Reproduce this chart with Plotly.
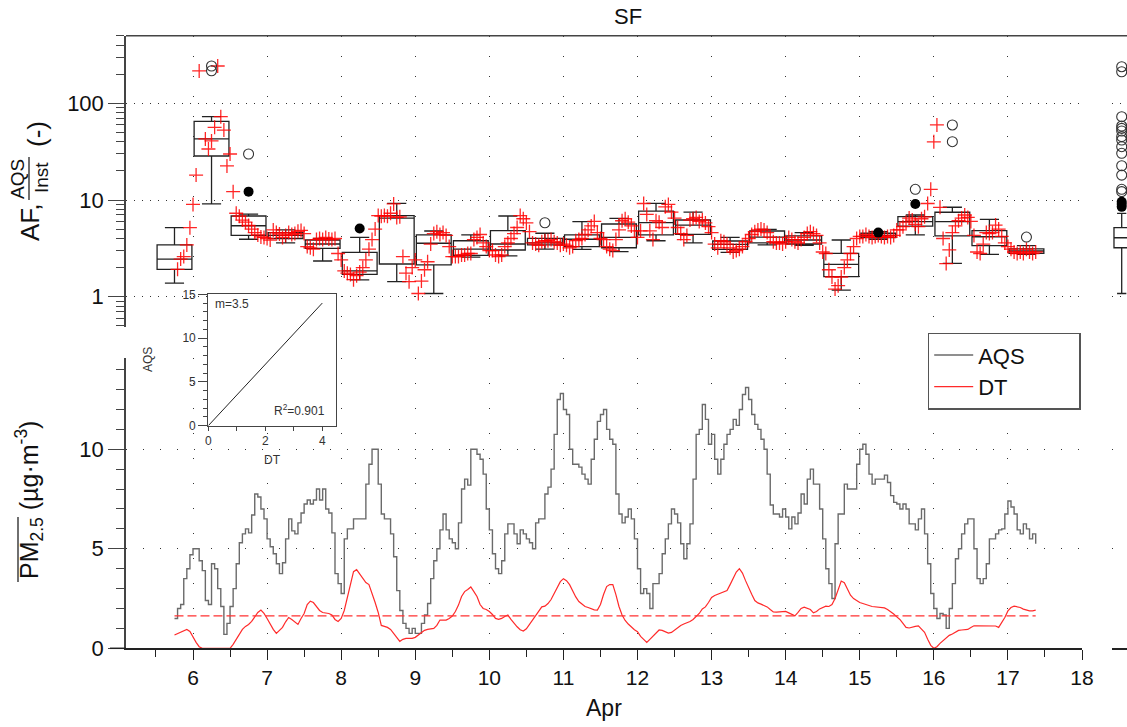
import plotly.graph_objects as go

W, H = 1127, 727
FONT = "Liberation Sans, Arial, sans-serif"


def fx(p):
    return p / W


def fy(p):
    return 1 - p / H


# ---------------- data ----------------
T0 = 5.75  # first hourly sample, Apr 5 18:00

aqs = [
    1.5, 2.0, 2.2, 3.5, 4.0, 4.7, 5.0, 5.0, 4.4, 3.9,
    2.4, 2.2, 4.25, 4.0, 3.0, 2.1, 0.7, 1.25, 2.1, 3.0,
    4.25, 5.3, 5.75, 6.0, 5.8, 6.7, 7.75, 7.6, 7.0, 6.5,
    5.5, 5.1, 4.75, 4.25, 3.75, 4.3, 5.5, 6.5, 5.9, 5.75,
    6.3, 6.8, 7.25, 7.45, 7.25, 7.45, 8.0, 7.45, 8.0, 7.0,
    6.8, 5.8, 3.75, 3.25, 2.75, 5.5, 6.0, 6.0, 6.5, 6.5,
    6.5, 6.5, 8.25, 9.25, 10.0, 10.0, 8.25, 6.75, 6.5, 6.5,
    5.75, 4.6, 2.9, 1.9, 1.25, 1.0, 0.75, 1.0, 0.75, 0.75,
    1.25, 1.67, 2.25, 3.5, 4.4, 5.0, 5.95, 6.75, 5.95, 5.5,
    5.3, 5.0, 6.3, 8.0, 8.5, 8.2, 10.0, 10.0, 9.75, 9.5,
    8.75, 7.0, 5.95, 4.75, 4.0, 3.75, 4.4, 5.75, 6.25, 6.25,
    5.75, 5.25, 5.95, 5.75, 5.5, 5.3, 5.0, 6.3, 6.5, 6.5,
    7.75, 8.1, 9.0, 10.75, 12.5, 12.8, 12.0, 11.75, 10.0, 9.25,
    9.25, 9.1, 8.75, 8.5, 8.25, 9.5, 10.5, 11.4, 11.75, 12.0,
    11.0, 10.5, 10.25, 7.75, 6.75, 6.3, 6.6, 7.0, 6.5, 5.5,
    4.0, 2.75, 3.0, 2.75, 2.0, 3.25, 3.25, 3.75, 4.75, 5.5,
    6.25, 7.0, 6.75, 6.3, 5.25, 4.5, 5.25, 6.25, 8.5, 10.75,
    11.0, 12.25, 11.5, 10.25, 10.75, 9.5, 8.75, 9.5, 10.25, 10.75,
    11.0, 11.5, 11.2, 12.0, 12.75, 13.1, 12.5, 11.75, 11.25, 11.0,
    10.5, 10.0, 8.75, 7.2, 6.75, 6.75, 6.6, 7.0, 6.6, 6.0,
    6.6, 6.25, 6.8, 7.75, 7.25, 8.5, 9.0, 8.25, 8.25, 7.0,
    5.5, 4.0, 3.25, 2.5, 5.25, 6.75, 6.75, 8.25, 8.0, 8.0,
    8.0, 9.25, 10.0, 10.25, 9.75, 8.75, 8.25, 8.5, 8.5, 8.5,
    8.7, 8.33, 7.67, 7.33, 7.25, 7.0, 7.25, 7.0, 6.25, 6.25,
    5.95, 6.5, 7.0, 5.75, 4.25, 2.75, 2.0, 1.5, 1.75, 1.67,
    1.0, 2.0, 3.25, 4.5, 5.0, 5.75, 6.25, 6.5, 6.5, 5.0,
    3.5, 3.25, 3.5, 4.25, 5.5, 5.5, 5.75, 5.95, 6.0, 6.75,
    7.4, 7.1, 6.75, 5.95, 5.75, 6.25, 6.0, 5.5, 5.75, 5.25,
]

dt = [
    0.67, 0.75, 0.83, 0.88, 0.95, 0.85, 0.55, 0.3, 0.08, 0.0,
    0.0, 0.0, 0.0, 0.0, 0.0, 0.0, 0.0, 0.0, 0.0, 0.2,
    0.45, 0.75, 0.95, 1.1, 1.2, 1.35, 1.6, 1.8, 1.92, 1.75,
    1.5, 1.2, 0.95, 0.75, 0.9, 1.05, 1.33, 1.55, 1.45, 1.3,
    1.2, 1.5, 1.75, 2.2, 2.37, 2.3, 2.1, 1.9, 1.8, 1.78,
    1.75, 1.68, 1.45, 1.35, 1.5, 1.9, 2.6, 3.3, 3.85, 3.95,
    3.75, 3.5, 3.3, 3.2, 2.8, 2.3, 1.8, 1.15, 1.1, 1.05,
    0.95, 0.75, 0.5, 0.35, 0.45, 0.5, 0.5, 0.5, 0.55, 0.67,
    0.8, 0.9, 0.95, 0.97, 1.0, 1.15, 1.42, 1.42, 1.42, 1.5,
    1.62, 1.85, 2.17, 2.6, 2.85, 2.95, 3.08, 2.85, 2.6, 2.2,
    2.0, 1.95, 1.85, 1.7, 1.5, 1.45, 1.5, 1.6, 1.67, 1.45,
    1.25, 1.08, 0.93, 0.87, 0.98, 1.2, 1.45, 1.7, 1.92, 2.08,
    2.12, 2.25, 2.45, 2.75, 3.08, 3.35, 3.5, 3.4, 3.2, 2.85,
    2.58, 2.35, 2.2, 2.1, 2.05, 1.97, 1.93, 1.92, 2.2, 2.7,
    3.1, 3.2, 3.2, 2.7, 2.1, 1.67, 1.4, 1.22, 1.05, 0.93,
    0.83, 0.6, 0.45, 0.3, 0.45, 0.62, 0.78, 0.92, 0.9, 0.83,
    0.76, 0.8, 0.92, 1.05, 1.15, 1.22, 1.28, 1.35, 1.45, 1.58,
    1.75, 1.98, 2.08, 2.3, 2.55, 2.65, 2.72, 2.78, 2.82, 2.9,
    3.2, 3.5, 3.83, 4.0, 3.78, 3.4, 3.02, 2.72, 2.4, 2.28,
    2.22, 2.15, 2.08, 1.95, 1.83, 1.82, 1.83, 1.85, 1.85, 1.78,
    1.7, 1.63, 1.8, 2.0, 2.07, 2.0, 1.95, 1.78, 1.85, 1.98,
    2.05, 2.12, 2.1, 2.2, 2.5, 2.9, 3.38, 3.3, 3.0, 2.67,
    2.5, 2.38, 2.3, 2.25, 2.18, 2.15, 2.1, 2.08, 2.07, 2.05,
    2.03, 1.95, 1.85, 1.72, 1.58, 1.45, 1.25, 1.05, 1.02, 1.07,
    1.1, 1.13, 0.98, 0.8, 0.45, 0.15, 0.0, 0.08, 0.25, 0.4,
    0.55, 0.65, 0.72, 0.82, 0.9, 0.92, 0.95, 0.95, 1.05, 1.13,
    1.13, 1.13, 1.13, 1.13, 1.13, 1.13, 1.12, 1.05, 1.3, 1.55,
    1.88, 2.05, 2.12, 2.08, 2.05, 1.97, 1.93, 1.88, 1.88, 1.92,
]

DT_MEAN = 1.63

# hourly adjustment factor AQS / instrument (None = no sample)
af = [
    None, 1.92, 2.45, 2.6, 3.43, 5.18, 9.0, 18.1, 216, None,
    42.8, 33.7, 40.8, 56.5, 243, 72.7, 52.9, 22.5, 29.9,
    12.2, 7.3, 6.8, 6.2, 5.9, 5.45, 5.0, 4.6, 4.35, 4.15, 4.1, 4.0,
    3.85, 4.9, 4.6, 4.45, 4.1, 4.3, 4.6, 4.4, 4.5, 4.75, 4.85, 4.5,
    3.3, 3.2, 3.1, 3.9, 4.0, 3.9, 4.1, 3.95, 3.9, 4.0, 2.8, 2.4,
    1.85, 1.75, 1.7, 1.5, 1.65, 1.8, 2.0, 2.4, 3.1, 3.9, 5.0, 6.9,
    6.8, 6.9, 6.8, 7.3, 9.1, 6.6, 6.7, 2.6, 1.75, 1.43, 2.0, 2.4,
    1.08, 1.45, 1.9, 2.3, 3.5, 4.5, 4.7, 4.4, 4.6, 4.3, 3.3, 2.6,
    2.6, 2.6, 2.7, 2.7, 2.8, 2.8, 3.9, 4.1, 4.4, 3.6, 3.3, 3.0,
    3.0, 2.7, 2.6, 2.7, 3.3, 3.6, 4.0, 4.5, 5.2, 6.9, 6.4, 5.8,
    4.7, 3.6, 3.5, 3.4, 3.7, 3.8, 3.8, 3.9, 3.7, 3.6, 3.4, 3.5,
    3.4, 3.2, 3.3, 3.8, 3.9, 4.0, 4.4, 4.9, 5.4, 6.0, 4.6, 4.0,
    3.9, 3.3, 3.1, 3.0, 3.9, 4.9, 6.1, 6.4, 5.9, 5.4, 4.8, 4.1,
    4.8, 9.2, 7.1, 4.8, 3.9, 6.1, 5.9, 5.2, 8.5, 9.0, 7.5, 6.5,
    5.2, 4.5, 3.9, 4.3, 6.2, 6.4, 6.6, 6.0, 6.2, 5.8, 5.3, 4.6,
    3.5, 3.2, 3.8, 3.7, 3.5, 3.2, 2.9, 3.0, 3.1, 3.3, 3.7, 4.0,
    4.4, 4.7, 4.9, 5.0, 4.9, 4.6, 4.1, 3.7, 3.6, 3.6, 3.5, 3.7,
    4.1, 3.9, 3.7, 3.6, 3.9, 4.1, 4.5, 4.7, 4.5, 4.3, 3.6, 2.9,
    2.8, 1.9, 1.6, 1.2, 1.3, 1.6, 2.0, 2.4, 2.8, 3.3, 4.0, 4.2,
    4.2, 4.4, 4.2, 4.1, 4.2, 4.3, 4.2, 4.1, 4.2, 4.1, 4.3, 4.9,
    4.9, 5.3, 5.9, 6.5, 6.2, 5.6, 5.3, 6.4, 6.7, 9.2, 12.9, 40.0,
    59.7, 8.4, 4.0, 2.2, 3.05, 4.6, 5.4, 6.1, 6.5, 7.0, 6.6, 6.0,
    4.3, 2.9, 2.8, 3.5, 4.6, 4.5, 4.6, 5.5, 5.0, 4.2, 3.6, 3.3,
    3.1, 2.9, 2.8, 2.9, 2.8, 3.1, 2.9, 2.8, 2.9,
]

# half-day box statistics of AF
box_center = [5.75 + 0.5 * i for i in range(24)]
box_lo = [1.38, 9.1, 3.93, 3.6, 2.34, 1.49, 1.43, 1.08, 2.57, 2.64, 3.11, 3.09,
          2.92, 3.79, 3.61, 2.88, 3.43, 3.40, 1.17, 3.93, 4.35, 2.21, 2.74, 2.74]
box_q1 = [1.92, 28.5, 4.30, 4.0, 3.16, 1.70, 2.18, 2.13, 2.68, 3.04, 3.43, 3.29,
          3.21, 4.35, 4.42, 3.09, 3.61, 3.51, 1.61, 4.09, 5.38, 4.25, 3.37, 2.81]
box_med = [2.45, 42.8, 5.42, 4.3, 3.51, 1.85, 6.5, 3.57, 3.11, 3.51, 3.61, 3.93,
           4.11, 5.85, 5.51, 3.48, 4.14, 3.86, 2.16, 4.30, 5.97, 5.97, 4.17, 2.97]
box_q3 = [3.43, 65.1, 6.83, 4.6, 3.86, 2.87, 6.9, 4.35, 3.79, 4.82, 4.02, 4.35,
          5.65, 7.69, 6.21, 3.77, 4.78, 4.25, 2.81, 4.53, 6.72, 7.47, 4.82, 3.13]
box_hi = [5.18, 72.7, 7.16, 4.9, 4.02, 4.1, 9.25, 4.78, 4.35, 6.83, 4.53, 5.97,
          6.47, 9.25, 7.51, 4.11, 4.98, 4.59, 3.86, 4.70, 7.0, 8.42, 6.31, 3.37]

far_x = [6.25, 6.25, 6.75, 10.75, 15.75, 16.25, 16.25, 17.25]
far_y = [243, 217, 29.9, 5.82, 12.9, 59.7, 40.1, 4.14]
near_x = [6.75, 8.25, 15.25, 15.75]
near_y = [12.2, 5.07, 4.6, 9.1]

# whole-period box of AF
all_stats = dict(lo=1.08, q1=3.21, med=4.07, q3=5.17, hi=7.28)
all_far = [239, 212, 72.7, 58.2, 55.1, 51.7, 45.2, 41.7, 35.6, 30.4, 22.6, 18.1, 12.9, 12.2]
all_near = [9.6, 9.1, 8.5]

# regression of AQS on DT
SLOPE = 3.5
R2 = 0.901
fit_dt = [0.0, 4.0]

day_ticks = list(range(6, 19))

# ---------------- figure ----------------
hours = [T0 + k / 24 for k in range(len(aqs))]
af_hours = [T0 + k / 24 for k in range(len(af))]

fig = go.Figure()

# top panel: half-day boxes, hourly AF, outliers
fig.add_trace(go.Box(
    x=box_center, q1=box_q1, median=box_med, q3=box_q3,
    lowerfence=box_lo, upperfence=box_hi,
    width=0.47, whiskerwidth=0.55, boxpoints=False,
    line=dict(color="#222222", width=1.3), fillcolor="rgba(0,0,0,0)",
    xaxis="x2", yaxis="y", showlegend=False, hoverinfo="skip",
))
fig.add_trace(go.Scatter(
    x=af_hours, y=af, mode="markers",
    marker=dict(symbol="cross-thin", size=10, line=dict(color="rgba(255,0,0,0.85)", width=1.3)),
    xaxis="x2", yaxis="y", showlegend=False, hoverinfo="skip",
))
fig.add_trace(go.Scatter(
    x=far_x, y=far_y, mode="markers",
    marker=dict(symbol="circle-open", size=10, color="#333333", line=dict(width=1.1)),
    xaxis="x2", yaxis="y", showlegend=False, hoverinfo="skip",
))
fig.add_trace(go.Scatter(
    x=near_x, y=near_y, mode="markers",
    marker=dict(symbol="circle", size=10, color="black"),
    xaxis="x2", yaxis="y", showlegend=False, hoverinfo="skip",
))

# right strip: whole-period box
ALL_X = 0.647
fig.add_trace(go.Box(
    x=[ALL_X], q1=[all_stats["q1"]], median=[all_stats["med"]], q3=[all_stats["q3"]],
    lowerfence=[all_stats["lo"]], upperfence=[all_stats["hi"]],
    width=1.03, whiskerwidth=0.6, boxpoints=False,
    line=dict(color="#222222", width=1.3), fillcolor="rgba(0,0,0,0)",
    xaxis="x3", yaxis="y", showlegend=False, hoverinfo="skip",
))
fig.add_trace(go.Scatter(
    x=[ALL_X] * len(all_far), y=all_far, mode="markers",
    marker=dict(symbol="circle-open", size=10, color="#333333", line=dict(width=1.1)),
    xaxis="x3", yaxis="y", showlegend=False, hoverinfo="skip",
))
fig.add_trace(go.Scatter(
    x=[ALL_X] * len(all_near), y=all_near, mode="markers",
    marker=dict(symbol="circle", size=10, color="black"),
    xaxis="x3", yaxis="y", showlegend=False, hoverinfo="skip",
))

# bottom panel: concentrations
fig.add_trace(go.Scatter(
    x=hours, y=aqs, mode="lines", name="AQS" + "\u00a0" * 8,
    line=dict(color="#6a6a6a", width=1.4, shape="hv"),
    xaxis="x", yaxis="y2", hoverinfo="skip",
))
fig.add_trace(go.Scatter(
    x=hours, y=dt, mode="lines", name="DT", line=dict(color="#ff2a2a", width=1.2),
    xaxis="x", yaxis="y2", hoverinfo="skip",
))
fig.add_trace(go.Scatter(
    x=[hours[0], hours[-1]], y=[DT_MEAN, DT_MEAN], mode="lines",
    line=dict(color="#ff3030", width=1.4, dash="9px,4px"),
    xaxis="x", yaxis="y2", showlegend=False, hoverinfo="skip",
))
fig.add_trace(go.Scatter(x=[None], y=[None], xaxis="x4", yaxis="y2",
                         showlegend=False, hoverinfo="skip"))

# inset: regression line
fig.add_trace(go.Scatter(
    x=fit_dt, y=[SLOPE * v for v in fit_dt], mode="lines",
    line=dict(color="#222222", width=1), xaxis="x5", yaxis="y5",
    showlegend=False, hoverinfo="skip",
))

AX = "#444444"
GRID = "#333333"
tick_font = dict(family=FONT, size=21, color="#111111")

log_minor = [d * m for d in (0.1, 1, 10, 100) for m in range(2, 10) if 0.49 < d * m <= 500]

fig.update_layout(
    template="none",
    width=W, height=H,
    margin=dict(l=0, r=0, t=0, b=0, autoexpand=False),
    paper_bgcolor="white", plot_bgcolor="white",
    font=dict(family=FONT, color="#111111"),
    showlegend=True,
    legend=dict(
        x=fx(927.7), y=fy(332.7), xanchor="left", yanchor="top",
        bordercolor="#555555", borderwidth=1.5, bgcolor="white",
        font=dict(family=FONT, size=22, color="#111111"),
        itemwidth=39, tracegroupgap=0,
    ),
    xaxis=dict(
        domain=[fx(126), fx(1082)], range=[5.0955, 18], anchor="y2", automargin=False,
        tickmode="array", tickvals=day_ticks, ticks="outside", ticklen=10,
        tickwidth=1.3, tickcolor="#222222", tickfont=tick_font,
        minor=dict(tickmode="array", tickvals=[d - 0.5 for d in day_ticks],
                   ticks="outside", ticklen=7, tickwidth=1.3, tickcolor="#222222", showgrid=False),
        showline=True, linecolor="#222222", linewidth=1.5,
        showgrid=True, gridcolor=GRID, gridwidth=1.2, griddash="1px,24px",
        zeroline=False,
    ),
    xaxis2=dict(
        domain=[fx(126), fx(1082)], matches="x", anchor="y", automargin=False,
        showticklabels=False, ticks="", showline=False, zeroline=False,
        tickmode="array", tickvals=day_ticks,
        showgrid=True, gridcolor=GRID, gridwidth=1.2, griddash="1px,19px",
    ),
    xaxis3=dict(domain=[fx(1112), 1.0], range=[0, 1], anchor="y", automargin=False,
                showticklabels=False, ticks="", showline=False, showgrid=False, zeroline=False),
    xaxis4=dict(domain=[fx(1112), 1.0], range=[0, 1], anchor="y2", automargin=False,
                showticklabels=False, ticks="", showline=True, linecolor="#222222",
                linewidth=1.5, showgrid=False, zeroline=False),
    yaxis=dict(
        domain=[fy(326.7), fy(35.7)], type="log", range=[-0.310, 2.699], anchor="x2",
        automargin=False,
        tickmode="array", tickvals=[1, 10, 100], ticktext=["1", "10", "100"],
        ticks="outside", ticklen=16, tickwidth=1.3, tickcolor=AX,
        tickfont=dict(family=FONT, size=22, color="#111111"),
        minor=dict(tickmode="array", tickvals=log_minor, ticks="outside",
                   ticklen=8, tickwidth=1.2, tickcolor=AX, showgrid=False),
        showline=True, linecolor=AX, linewidth=1.5,
        showgrid=True, gridcolor=GRID, gridwidth=1.2, griddash="1px,7px",
        zeroline=False,
    ),
    yaxis2=dict(
        domain=[fy(648.3), fy(357.7)], range=[0, 14.6], anchor="x", automargin=False,
        tickmode="array", tickvals=[0, 5, 10],
        ticks="outside", ticklen=16, tickwidth=1.3, tickcolor=AX,
        tickfont=dict(family=FONT, size=22, color="#111111"),
        minor=dict(tickmode="array", tickvals=list(range(1, 15)), ticks="outside",
                   ticklen=8, tickwidth=1.2, tickcolor=AX, showgrid=False),
        showline=True, linecolor=AX, linewidth=1.5,
        showgrid=True, gridcolor=GRID, gridwidth=1.2, griddash="1px,16px",
        zeroline=False,
    ),
    xaxis5=dict(
        domain=[fx(208.3), fx(335.7)], range=[0, 4.47], anchor="y5", automargin=False,
        tickmode="array", tickvals=[0, 2, 4], ticks="outside", ticklen=4,
        tickwidth=1, tickcolor=AX, tickfont=dict(family=FONT, size=12, color="#333333"),
        minor=dict(tickmode="array", tickvals=[1, 3], ticks="outside", ticklen=4,
                   tickwidth=1, tickcolor=AX, showgrid=False),
        showline=True, mirror=True, linecolor=AX, linewidth=1.3,
        showgrid=False, zeroline=False,
    ),
    yaxis5=dict(
        domain=[fy(425.7), fy(294.3)], range=[0, 15], anchor="x5", automargin=False,
        tickmode="array", tickvals=[0, 5, 10, 15], ticks="outside", ticklen=9,
        tickwidth=1, tickcolor=AX, tickfont=dict(family=FONT, size=12, color="#333333"),
        minor=dict(tickmode="array", tickvals=[v for v in range(1, 15) if v % 5], ticks="outside",
                   ticklen=4, tickwidth=1, tickcolor=AX, showgrid=False),
        showline=True, mirror=True, linecolor=AX, linewidth=1.3,
        showgrid=False, zeroline=False,
    ),
)


def note(text, x, y, size, angle=0, xanchor="center", yanchor="middle", color="#111111"):
    fig.add_annotation(
        text=text, x=fx(x), y=fy(y), xref="paper", yref="paper",
        xanchor=xanchor, yanchor=yanchor, textangle=angle, showarrow=False,
        font=dict(family=FONT, size=size, color=color),
    )


note("SF", 628, 17, 22)
note("Apr", 604, 708, 23)
# top y title: AF, AQS/Inst (-)
note("AF,", 30, 222, 26, angle=-90)
note("AQS", 17, 179, 19, angle=-90)
note("Inst", 41, 178, 19, angle=-90)
note("(-)", 37, 134, 26, angle=-90)
# bottom y title
note("PM<sub>2.5</sub> (µg·m<sup>-3</sup>)", 29, 500, 25, angle=-90)
# inset labels
note(f"m={SLOPE:g}", 213, 304, 12, xanchor="left", color="#333333")
note(f"R<sup>2</sup>={R2:.3f}", 327, 410, 12, xanchor="right", color="#333333")
note("AQS", 148, 360, 12, angle=-90, color="#333333")
note("DT", 272, 460, 12, color="#333333")

line_style = dict(color="#222222", width=1.3)
shapes = [
    # top frame
    dict(type="line", xref="paper", yref="paper", x0=fx(126), x1=1.0, y0=fy(35.7), y1=fy(35.7),
         line=dict(color=AX, width=1.5)),
    # left stub of the time axis
    dict(type="line", xref="paper", yref="paper", x0=fx(110), x1=fx(126), y0=fy(648.3), y1=fy(648.3),
         line=dict(color="#222222", width=1.5)),
    # fraction bar in the AF label
    dict(type="line", xref="paper", yref="paper", x0=fx(29), x1=fx(29), y0=fy(157), y1=fy(200),
         line=line_style),
    # overline on PM2.5
    dict(type="line", xref="paper", yref="paper", x0=fx(18), x1=fx(18), y0=fy(517), y1=fy(582),
         line=line_style),
]
fig.update_layout(shapes=shapes)

fig.write_html("out.html")
